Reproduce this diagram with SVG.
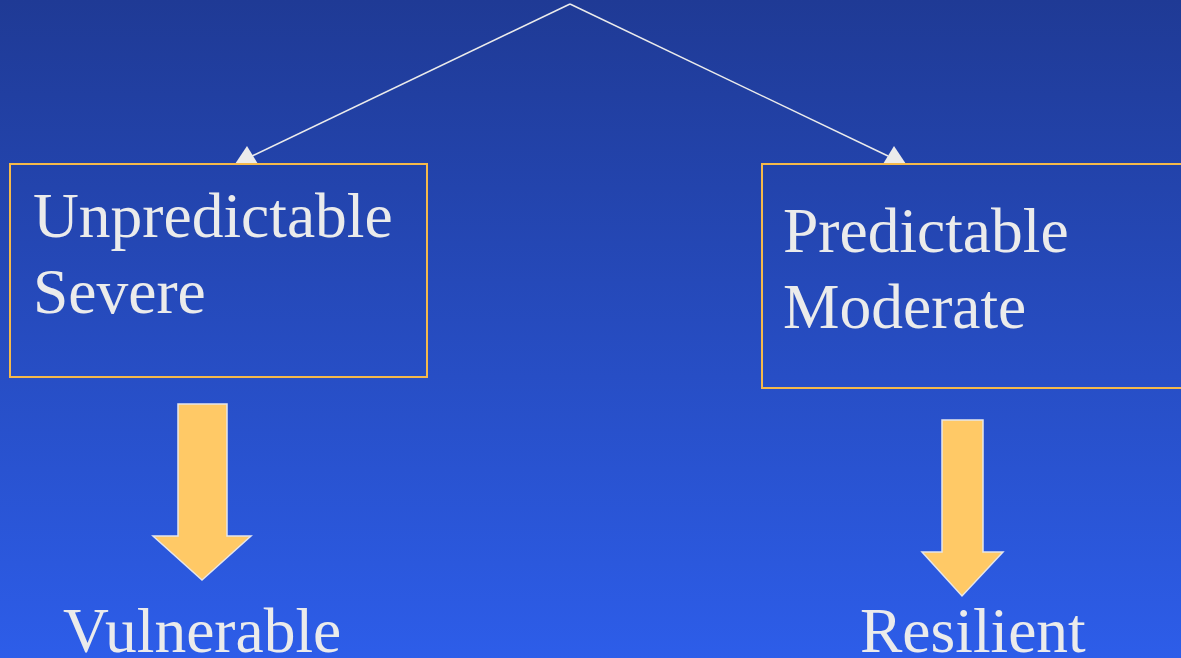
<svg xmlns="http://www.w3.org/2000/svg" width="1181" height="658" viewBox="0 0 1181 658">
<defs>
<linearGradient id="bg" x1="0" y1="0" x2="0" y2="1">
<stop offset="0" stop-color="#1f3a95"/>
<stop offset="1" stop-color="#2d5de9"/>
</linearGradient>
<style>
.t{font-family:"Liberation Serif","Times New Roman",serif;font-size:63.5px;fill:#ebebeb}
.box{fill:none;stroke:#f5b94a;stroke-width:2}
.big{fill:#ffc966;stroke:#e6e6ea;stroke-width:1.5;stroke-linejoin:miter}
.ln{fill:none;stroke:#ebebeb;stroke-width:1.5}
.head{fill:#ebebeb}
</style>
</defs>
<rect x="0" y="0" width="1181" height="658" fill="url(#bg)"/>
<g id="connectors">
<line class="ln" x1="570" y1="4" x2="252" y2="156"/>
<line class="ln" x1="570" y1="4" x2="888" y2="156"/>
<polygon class="head" points="235,164 247,146 258,164"/>
<polygon class="head" points="883,164 894,146 906,164"/>
</g>
<g id="node-unpredictable">
<rect class="box" x="10" y="164" width="417" height="213"/>
<text class="t" x="33" y="237">Unpredictable</text>
<text class="t" x="33" y="313">Severe</text>
</g>
<g id="node-predictable">
<rect class="box" x="762" y="164" width="430" height="224"/>
<text class="t" x="783" y="252">Predictable</text>
<text class="t" x="783" y="328">Moderate</text>
</g>
<g id="arrow-left">
<polygon class="big" points="178,404 227,404 227,536 251,536 202,580 153,536 178,536"/>
</g>
<g id="arrow-right">
<polygon class="big" points="942,420 983,420 983,552 1003,552 962,596 922,552 942,552"/>
</g>
<g id="node-vulnerable">
<text class="t" x="63" y="652">Vulnerable</text>
</g>
<g id="node-resilient">
<text class="t" x="860" y="652">Resilient</text>
</g>
</svg>
